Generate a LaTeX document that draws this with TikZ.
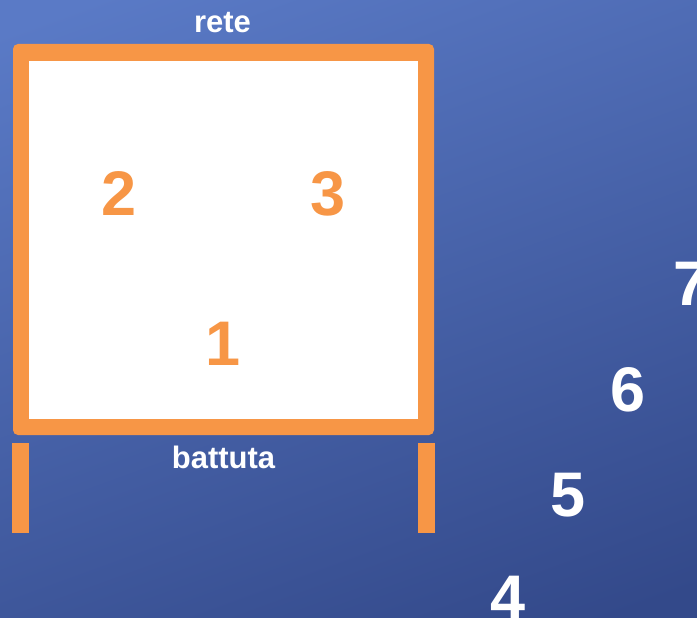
\documentclass[tikz,border=0pt]{standalone}
\usepackage{fontspec}
\setmainfont{Liberation Sans}
\definecolor{bgtop}{HTML}{5A7AC6}
\definecolor{bgbottom}{HTML}{33498A}
\definecolor{campo}{HTML}{F79646}
\begin{document}
\begin{tikzpicture}[x=1pt, y=-1pt,
    label/.style={text=white, font=\fontsize{31}{31}\selectfont\bfseries, anchor=base, inner sep=0pt},
    zona/.style={text=campo, font=\fontsize{63}{63}\selectfont\bfseries, anchor=base, inner sep=0pt},
    fuori/.style={text=white, font=\fontsize{63}{63}\selectfont\bfseries, anchor=base, inner sep=0pt}]
    % Background
    \useasboundingbox (0, 0) rectangle (697, 618);
    \clip (0, 0) rectangle (697, 618);
    \shade [top color=bgtop, bottom color=bgbottom, shading angle=20] (-60, -60) rectangle (760, 680);

    % Court with net and baseline
    \fill [campo, rounded corners=5pt] (13, 44) rectangle (434, 435);
    \fill [white] (29, 61) rectangle (418, 419);

    % Posts
    \fill [campo] (12, 443) rectangle (29, 533);
    \fill [campo] (418, 443) rectangle (435, 533);

    % Labels
    \node [label] (rete) at (222.5, 33) {rete};
    \node [label] (battuta) at (223.5, 468) {battuta};

    % Zones inside
    \node [zona] (z2) at (119, 215) {2};
    \node [zona] (z3) at (328, 215) {3};
    \node [zona] (z1) at (223, 365) {1};

    % Zones outside
    \node [fuori] (z4) at (508, 619) {4};
    \node [fuori] (z5) at (568, 516) {5};
    \node [fuori] (z6) at (628, 411) {6};
    \node [fuori] (z7) at (691, 305) {7};
\end{tikzpicture}
\end{document}
